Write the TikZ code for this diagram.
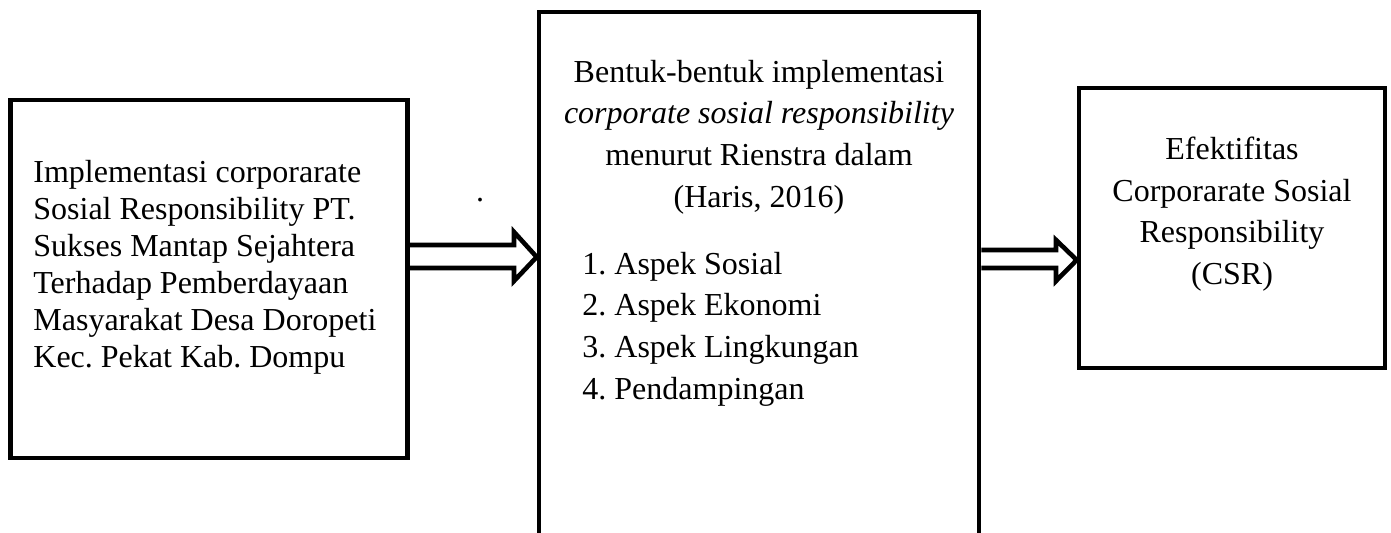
\documentclass[tikz,border=0pt]{standalone}
\usepackage{fontspec}
\setmainfont{Liberation Serif}
\usetikzlibrary{positioning, calc}
\definecolor{InkBlack}{HTML}{000000}
\frenchspacing

\begin{document}
\begin{tikzpicture}[x=0.5pt, y=-0.5pt,
    frame/.style={draw=InkBlack, line width=2.3pt, inner sep=0pt},
    hollow/.style={draw=InkBlack, line width=2.3pt, miter limit=10},
    txt/.style={font=\fontsize{16}{18.5}\selectfont, text=InkBlack, inner sep=0pt}]
  \useasboundingbox (0,0) rectangle (1391,533);

  % boxes
  \node[frame, minimum width=198.5pt, minimum height=179pt] (lbox) at (209,279) {};
  \node[frame, minimum width=220pt, minimum height=274pt] (mbox) at (759,286) {};
  \node[frame, minimum width=153pt, minimum height=140pt] (rbox) at (1232,228) {};

  % texts
  \node[txt, anchor=west, align=left] (ltext) at (33,267) {Implementasi corporarate\\Sosial Responsibility PT.\\Sukses Mantap Sejahtera\\Terhadap Pemberdayaan\\Masyarakat Desa Doropeti\\Kec. Pekat Kab. Dompu};
  \node[txt, align=center, font=\fontsize{16}{20.8}\selectfont] (mtitle) at (759,137) {Bentuk-bentuk implementasi\\\textit{corporate sosial responsibility}\\menurut Rienstra dalam\\(Haris, 2016)};
  \node[txt, anchor=west, align=left, font=\fontsize{16}{20.8}\selectfont] (mlist) at (582,329) {1. Aspek Sosial\\2. Aspek Ekonomi\\3. Aspek Lingkungan\\4. Pendampingan};
  \node[txt, align=center, font=\fontsize{16}{20.8}\selectfont] (rtext) at (1232,214) {Efektifitas\\Corporarate Sosial\\Responsibility\\(CSR)};
  \node[txt, anchor=base] (dot) at (480,202) {.};

  % arrows
  \draw[hollow] (lbox.east |- 0,245) -- (514,245) -- (514,232) -- (mbox.west |- 0,257)
    -- (514,281) -- (514,268) -- (lbox.east |- 0,268);
  \draw[hollow] (mbox.east |- 0,250) -- (1056,250) -- (1056,240) -- (rbox.west |- 0,260)
    -- (1056,281) -- (1056,268) -- (mbox.east |- 0,268);
\end{tikzpicture}
\end{document}
